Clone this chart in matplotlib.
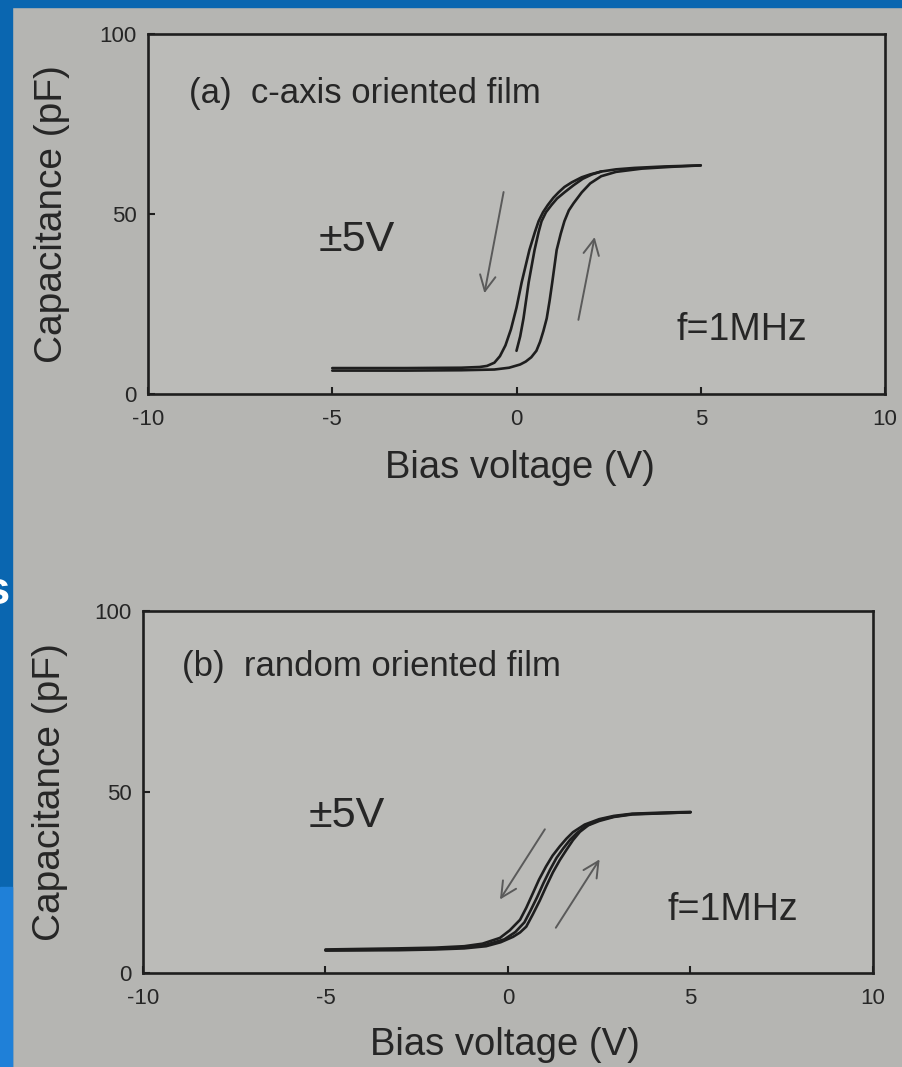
import matplotlib
matplotlib.use("Agg")
import matplotlib.pyplot as plt
from matplotlib.patches import Rectangle

plt.rcParams['font.family'] = ['Liberation Sans', 'DejaVu Sans']

# ---------------- data ----------------
x_ticks = [-10, -5, 0, 5, 10]
y_ticks = [0, 50, 100]

# (a) c-axis oriented film
a_v1 = [-5, -3, -1.5, -1.0, -0.8, -0.6, -0.45, -0.3, -0.15, 0.0, 0.14, 0.35, 0.5, 0.6, 0.72,
        0.85, 1.0, 1.14, 1.3, 1.5, 1.77, 2.0, 2.3, 2.7, 3.2, 4.0, 5.0]
a_c1 = [7.2, 7.2, 7.3, 7.5, 7.8, 8.7, 10.5, 13.5, 18, 24, 31, 40, 45, 48, 50.5,
        52.5, 54.5, 56, 57.5, 58.8, 60.2, 61, 61.8, 62.4, 62.8, 63.2, 63.5]
a_v2 = [0.0, 0.1, 0.19, 0.33, 0.49, 0.6, 0.68, 0.8, 0.95, 1.1, 1.3, 1.55, 1.8, 2.05, 2.3]
a_c2 = [12, 16, 21, 31, 40, 45, 48, 50.5, 52.5, 54.3, 56, 58, 59.8, 61, 61.8]
a_v3 = [-5, -3, -1.5, -0.6, -0.2, 0.1, 0.25, 0.4, 0.54, 0.64, 0.73, 0.82, 0.9, 0.97, 1.09,
        1.2, 1.3, 1.42, 1.55, 1.77, 2.0, 2.3, 2.7, 3.4, 4.2, 5.0]
a_c3 = [6.5, 6.5, 6.6, 6.8, 7.3, 8.2, 9.0, 10.2, 12, 14.5, 17.5, 21, 26, 31, 40,
        44.5, 48, 51, 53, 56, 58.5, 60.5, 61.7, 62.6, 63.1, 63.5]

# (b) random oriented film
b_v1 = [-5, -3, -2, -1.2, -0.7, -0.22, 0.05, 0.33, 0.5, 0.68, 0.85, 1.04, 1.22, 1.42, 1.6,
        1.78, 2.1, 2.5, 2.9, 3.4, 4.2, 5.0]
b_c1 = [6.5, 6.8, 7.0, 7.4, 8.1, 9.7, 11.8, 14.7, 18, 22, 25.8, 29.4, 32.4, 35, 37.1,
        38.9, 41, 42.5, 43.4, 44, 44.3, 44.5]
b_v2 = [-5, -3, -2, -1.2, -0.6, -0.1, 0.2, 0.45, 0.62, 0.8, 0.97, 1.15, 1.33, 1.52, 1.7,
        1.88, 2.15, 2.5, 2.9, 3.4, 5.0]
b_c2 = [6.3, 6.5, 6.7, 7.1, 7.8, 9.3, 11.3, 14, 17.3, 21, 24.8, 28.5, 31.8, 34.5, 36.8,
        38.6, 40.7, 42.3, 43.2, 43.9, 44.4]
b_v3 = [-5, -3, -2, -1.2, -0.6, -0.2, 0.14, 0.33, 0.5, 0.68, 0.87, 1.05, 1.23, 1.42, 1.6,
        1.78, 1.97, 2.2, 2.5, 2.9, 3.4, 5.0]
b_c3 = [6.2, 6.3, 6.5, 6.8, 7.4, 8.5, 10, 11.2, 12.8, 16.2, 20, 24, 27.8, 31.2, 34,
        36.7, 39, 40.8, 42, 43.1, 43.8, 44.4]

titles = ["(a)  c-axis oriented film", "(b)  random oriented film"]
sweep_label = "\u00b15V"
freq_label = "f=1MHz"
xlabel = "Bias voltage (V)"
ylabel = "Capacitance (pF)"

# ---------------- style ----------------
PAPER = '#b5b5b2'
INNER = '#bbbbb8'
INK = '#1e1e1e'
TXT = '#262626'
ARROW = '#5a5a5a'
BLUE = '#0a66b0'

fig = plt.figure(figsize=(9.03, 10.67), dpi=100, facecolor=PAPER)

# slide border
fig.patches.append(Rectangle((0, 1 - 7/1067), 1, 7/1067, transform=fig.transFigure,
                             color=BLUE, zorder=0))
fig.patches.append(Rectangle((0, 0), 12/903, 1, transform=fig.transFigure,
                             color=BLUE, zorder=0))
fig.patches.append(Rectangle((0, 0), 12/903, 180/1067, transform=fig.transFigure,
                             color='#1f80d8', zorder=0))
fig.text(10/903, 1 - 592/1067, "s", color='white', fontsize=34, ha='right', va='center',
         fontweight='bold')

ax1 = fig.add_axes([148/903, 1 - 394/1067, 737/903, 360/1067])
ax2 = fig.add_axes([143/903, 1 - 973/1067, 730/903, 362/1067])

panels = [
    (ax1, [(a_v1, a_c1), (a_v2, a_c2), (a_v3, a_c3)],
     [((-0.35, 56.1), (-0.87, 28.0)), ((1.68, 20.6), (2.12, 43.6))],
     (-8.9, 83.6), (-5.38, 42.8), (4.35, 17.8), (-0.130, 0.5), (0.505, -0.205)),
    (ax2, [(b_v1, b_c1), (b_v2, b_c2), (b_v3, b_c3)],
     [((1.01, 39.7), (-0.22, 20.3)), ((1.31, 12.5), (2.51, 31.4))],
     (-8.93, 84.7), (-5.46, 43.3), (4.37, 17.5), (-0.127, 0.5), (0.496, -0.20)),
]

for i, (ax, curves, arrows, tpos, spos, fpos, ylpos, xlpos) in enumerate(panels):
    ax.set_facecolor(INNER)
    for v, c in curves:
        ax.plot(v, c, color=INK, lw=1.9, solid_joinstyle='round', solid_capstyle='round')
    for start, end in arrows:
        ax.annotate("", xy=end, xytext=start,
                    arrowprops=dict(arrowstyle='->', color=ARROW, lw=1.4,
                                    mutation_scale=28, shrinkA=0, shrinkB=0))
    ax.set_xlim(-10, 10)
    ax.set_ylim(0, 100)
    ax.set_xticks(x_ticks)
    ax.set_yticks(y_ticks)
    ax.set_xticklabels([str(t) for t in x_ticks])
    ax.set_yticklabels([str(t) for t in y_ticks])
    ax.tick_params(direction='in', length=5, width=1.5, color=INK, labelsize=16,
                   labelcolor=TXT)
    ax.tick_params(axis='x', pad=11)
    ax.tick_params(axis='y', pad=8)
    for s in ax.spines.values():
        s.set_linewidth(1.9)
        s.set_color(INK)
    ax.text(tpos[0], tpos[1], titles[i], fontsize=25, color=TXT, ha='left', va='center')
    ax.text(spos[0], spos[1], sweep_label, fontsize=31, color=TXT, ha='left', va='center')
    ax.text(fpos[0], fpos[1], freq_label, fontsize=27, color=TXT, ha='left', va='center')
    ax.set_ylabel(ylabel, fontsize=28, color=TXT)
    ax.yaxis.set_label_coords(*ylpos)
    ax.set_xlabel(xlabel, fontsize=27.5, color=TXT)
    ax.xaxis.set_label_coords(*xlpos)
    ax.xaxis.label.set_va('center')
    ax.yaxis.label.set_va('center')

fig.savefig("out.png", dpi=100, facecolor=PAPER)
